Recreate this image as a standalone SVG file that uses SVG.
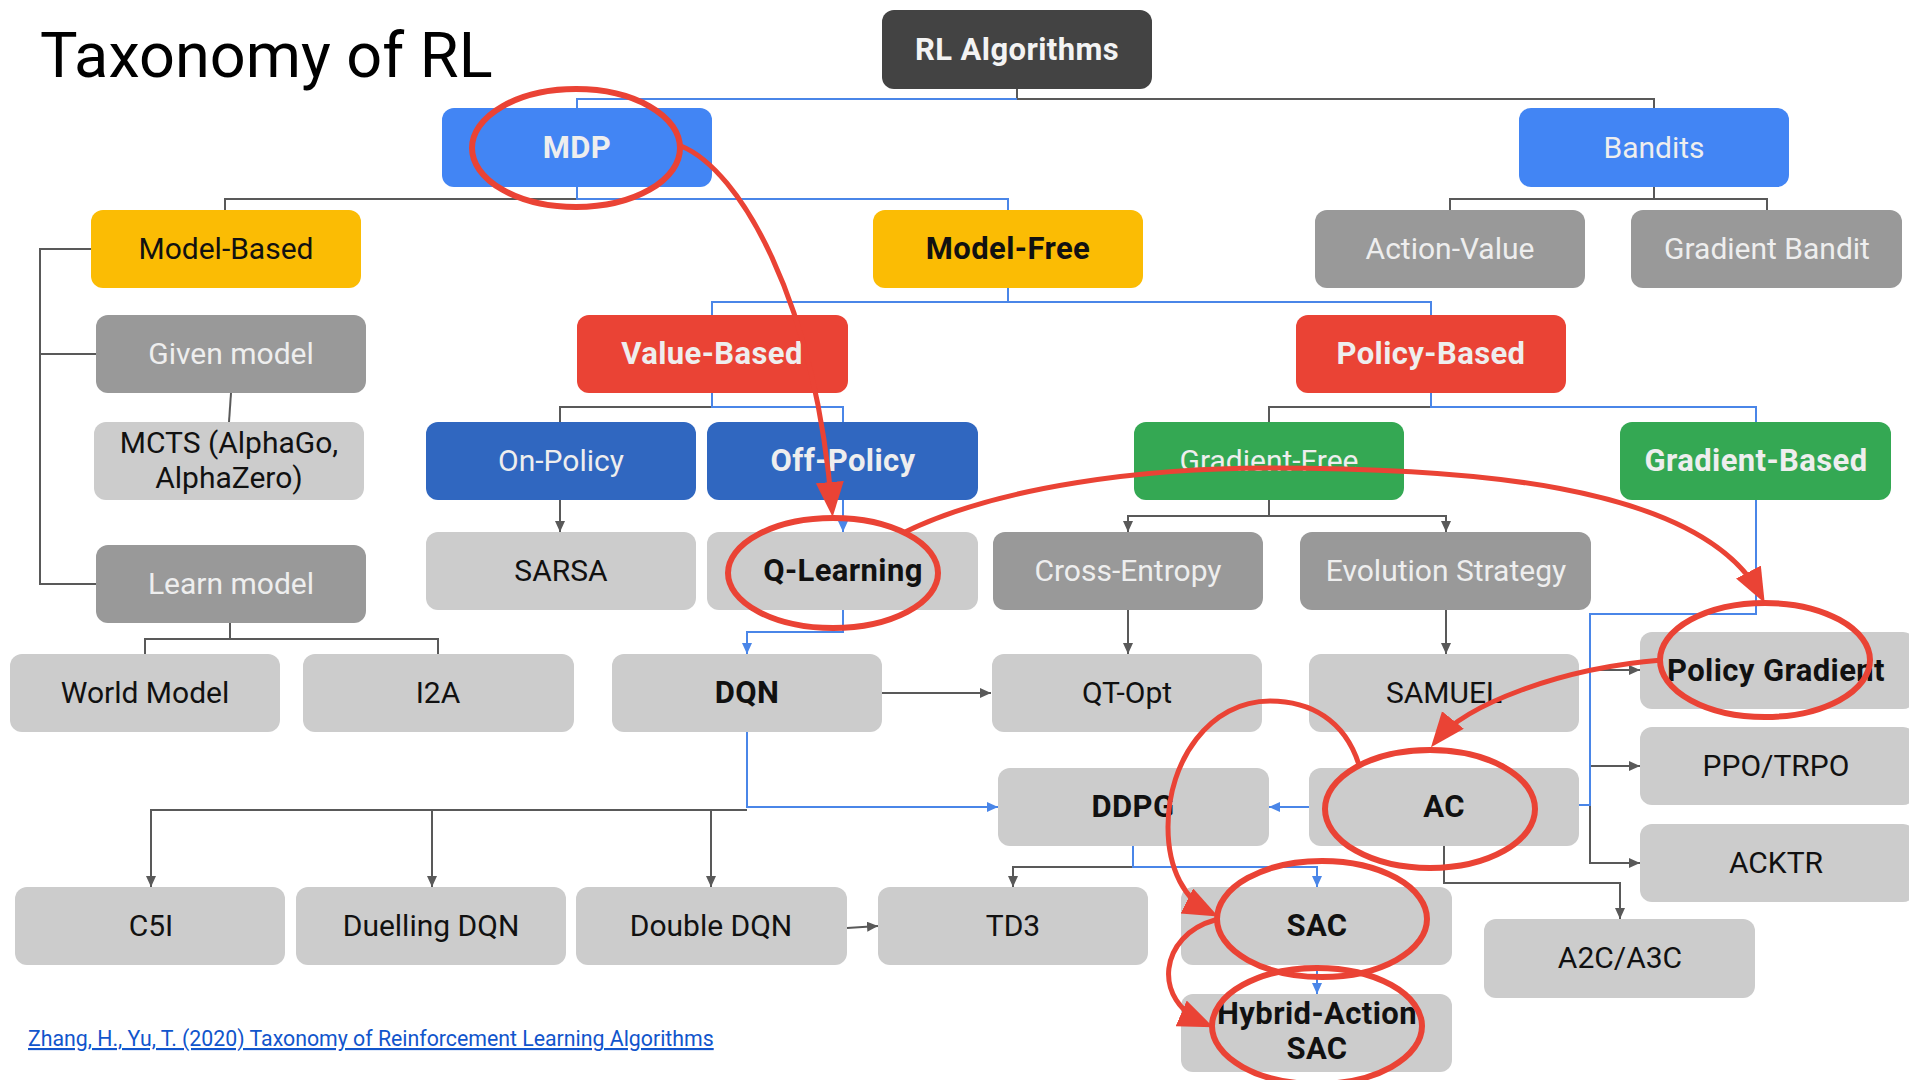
<svg xmlns="http://www.w3.org/2000/svg" width="1909" height="1080" viewBox="0 0 1909 1080">
  <style>
    text { font-family: Roboto, "Liberation Sans", sans-serif; text-anchor: middle; font-size: 30px; }
    .t { fill: #111111; }
    .tl { fill: #eeeeee; }
    .b { font-weight: 700; font-size: 31px; letter-spacing: 0.4px; }
    .box { stroke: none; }
    .dark { fill: #434343; }
    .blue { fill: #4285f4; }
    .navy { fill: #3067c0; }
    .yellow { fill: #fbbc04; }
    .grey { fill: #999999; }
    .light { fill: #cccccc; }
    .red { fill: #ea4335; }
    .green { fill: #34a853; }
    .cg { fill: none; stroke: #595959; stroke-width: 2; }
    .cb { fill: none; stroke: #4a86e8; stroke-width: 2; }
    .ag { marker-end: url(#arrow-grey); }
    .ab { marker-end: url(#arrow-blue); }
    .hl { fill: none; stroke: #ea4335; stroke-width: 6; }
    .hc { fill: none; stroke: #ea4335; stroke-width: 5; marker-end: url(#arrow-red); }
  </style>
  <defs>
    <marker id="arrow-grey" markerUnits="userSpaceOnUse" markerWidth="12" markerHeight="10" refX="11" refY="5" orient="auto">
      <path d="M0,0 L11,5 L0,10 z" fill="#595959"/>
    </marker>
    <marker id="arrow-blue" markerUnits="userSpaceOnUse" markerWidth="12" markerHeight="10" refX="11" refY="5" orient="auto">
      <path d="M0,0 L11,5 L0,10 z" fill="#4a86e8"/>
    </marker>
    <marker id="arrow-red" markerUnits="userSpaceOnUse" markerWidth="36" markerHeight="30" refX="27" refY="14" orient="auto">
      <path d="M0,0 L35,14 L0,28 z" fill="#ea4335"/>
    </marker>
  </defs>

  <rect width="1909" height="1080" fill="#ffffff"/>

  <text x="40" y="77" style="font-size:63px; text-anchor:start;" fill="#000000">Taxonomy of RL</text>

  <!-- tree connectors -->
  <g id="connectors">
    <path class="cg" d="M1017 89 V99 H1654 V108"/>
    <path class="cb" d="M1017 99 H577 V108"/>
    <path class="cg" d="M577 199 H225 V210"/>
    <path class="cb" d="M577 187 V199 H1008 V210"/>
    <path class="cg" d="M1654 187 V199 H1450 V210"/>
    <path class="cg" d="M1654 199 H1767 V210"/>
    <path class="cg" d="M91 249 H40 V584 H96"/>
    <path class="cg" d="M40 354 H96"/>
    <path class="cg" d="M231 393 L229 422"/>
    <path class="cb" d="M1008 288 V302 H712 V315"/>
    <path class="cb" d="M1008 302 H1431 V315"/>
    <path class="cg" d="M712 407 H560 V422"/>
    <path class="cb" d="M712 393 V407 H843 V422"/>
    <path class="cg ag" d="M560 500 V532"/>
    <path class="cb ab" d="M843 500 V532"/>
    <path class="cb ab" d="M843 610 V632 H747 V654"/>
    <path class="cg" d="M230 623 V639 H145 V654"/>
    <path class="cg" d="M230 639 H438 V654"/>
    <path class="cg ag" d="M882 693 H991"/>
    <path class="cg ag" d="M747 810 H151 V887"/>
    <path class="cg ag" d="M432 810 V887"/>
    <path class="cg ag" d="M711 810 V887"/>
    <path class="cb ab" d="M747 732 V807 H998"/>
    <path class="cg ag" d="M847 928 L878 926"/>
    <path class="cg" d="M1431 407 H1269 V422"/>
    <path class="cb" d="M1431 393 V407 H1756 V422"/>
    <path class="cg ag" d="M1269 500 V516 H1128 V532"/>
    <path class="cg ag" d="M1269 516 H1446 V532"/>
    <path class="cg ag" d="M1128 610 V654"/>
    <path class="cg ag" d="M1446 610 V654"/>
    <path class="cg ag" d="M1590 670 H1640"/>
    <path class="cg ag" d="M1590 766 H1640"/>
    <path class="cg ag" d="M1590 805 V863 H1640"/>
    <path class="cb" d="M1756 500 V614 H1590 V805 H1579"/>
    <path class="cb ab" d="M1309 807 H1269"/>
    <path class="cg ag" d="M1444 846 V883 H1620 V919"/>
    <path class="cg ag" d="M1133 867 H1013 V887"/>
    <path class="cb ab" d="M1133 846 V867 H1317 V887"/>
    <path class="cb ab" d="M1317 965 V994"/>
  </g>

  <!-- nodes -->
  <g id="rl-algorithms"><rect class="box dark" x="882" y="10" width="270" height="79" rx="12"/><text class="b" fill="#f3f3f3" x="1017" y="60">RL Algorithms</text></g>
  <g id="mdp"><rect class="box blue" x="442" y="108" width="270" height="79" rx="12"/><text class="tl b" x="577" y="158">MDP</text></g>
  <g id="bandits"><rect class="box blue" x="1519" y="108" width="270" height="79" rx="12"/><text class="tl" x="1654" y="158">Bandits</text></g>

  <g id="model-based"><rect class="box yellow" x="91" y="210" width="270" height="78" rx="12"/><text class="t" x="226" y="259">Model-Based</text></g>
  <g id="model-free"><rect class="box yellow" x="873" y="210" width="270" height="78" rx="12"/><text class="t b" x="1008" y="259">Model-Free</text></g>
  <g id="action-value"><rect class="box grey" x="1315" y="210" width="270" height="78" rx="12"/><text class="tl" x="1450" y="259">Action-Value</text></g>
  <g id="gradient-bandit"><rect class="box grey" x="1631" y="210" width="271" height="78" rx="12"/><text class="tl" x="1767" y="259">Gradient Bandit</text></g>

  <g id="given-model"><rect class="box grey" x="96" y="315" width="270" height="78" rx="12"/><text class="tl" x="231" y="364">Given model</text></g>
  <g id="value-based"><rect class="box red" x="577" y="315" width="271" height="78" rx="12"/><text class="tl b" x="712" y="364">Value-Based</text></g>
  <g id="policy-based"><rect class="box red" x="1296" y="315" width="270" height="78" rx="12"/><text class="tl b" x="1431" y="364">Policy-Based</text></g>

  <g id="mcts"><rect class="box light" x="94" y="422" width="270" height="78" rx="12"/><text class="t" x="229" y="453">MCTS (AlphaGo,</text><text class="t" x="229" y="488">AlphaZero)</text></g>
  <g id="on-policy"><rect class="box navy" x="426" y="422" width="270" height="78" rx="12"/><text class="tl" x="561" y="471">On-Policy</text></g>
  <g id="off-policy"><rect class="box navy" x="707" y="422" width="271" height="78" rx="12"/><text class="tl b" x="843" y="471">Off-Policy</text></g>
  <g id="gradient-free"><rect class="box green" x="1134" y="422" width="270" height="78" rx="12"/><text class="tl" x="1269" y="471">Gradient-Free</text></g>
  <g id="gradient-based"><rect class="box green" x="1620" y="422" width="271" height="78" rx="12"/><text class="tl b" x="1756" y="471">Gradient-Based</text></g>

  <g id="sarsa"><rect class="box light" x="426" y="532" width="270" height="78" rx="12"/><text class="t" x="561" y="581">SARSA</text></g>
  <g id="q-learning"><rect class="box light" x="707" y="532" width="271" height="78" rx="12"/><text class="t b" x="843" y="581">Q-Learning</text></g>
  <g id="cross-entropy"><rect class="box grey" x="993" y="532" width="270" height="78" rx="12"/><text class="tl" x="1128" y="581">Cross-Entropy</text></g>
  <g id="evolution-strategy"><rect class="box grey" x="1300" y="532" width="291" height="78" rx="12"/><text class="tl" x="1446" y="581">Evolution Strategy</text></g>
  <g id="learn-model"><rect class="box grey" x="96" y="545" width="270" height="78" rx="12"/><text class="tl" x="231" y="594">Learn model</text></g>

  <g id="world-model"><rect class="box light" x="10" y="654" width="270" height="78" rx="12"/><text class="t" x="145" y="703">World Model</text></g>
  <g id="i2a"><rect class="box light" x="303" y="654" width="271" height="78" rx="12"/><text class="t" x="438" y="703">I2A</text></g>
  <g id="dqn"><rect class="box light" x="612" y="654" width="270" height="78" rx="12"/><text class="t b" x="747" y="703">DQN</text></g>
  <g id="qt-opt"><rect class="box light" x="992" y="654" width="270" height="78" rx="12"/><text class="t" x="1127" y="703">QT-Opt</text></g>
  <g id="samuel"><rect class="box light" x="1309" y="654" width="270" height="78" rx="12"/><text class="t" x="1444" y="703">SAMUEL</text></g>
  <g id="policy-gradient"><rect class="box light" x="1640" y="632" width="275" height="77" rx="12"/><text class="t b" x="1776" y="681">Policy Gradient</text></g>

  <g id="ppo-trpo"><rect class="box light" x="1640" y="727" width="275" height="78" rx="12"/><text class="t" x="1776" y="776">PPO/TRPO</text></g>
  <g id="ddpg"><rect class="box light" x="998" y="768" width="271" height="78" rx="12"/><text class="t b" x="1133" y="817">DDPG</text></g>
  <g id="ac"><rect class="box light" x="1309" y="768" width="270" height="78" rx="12"/><text class="t b" x="1444" y="817">AC</text></g>
  <g id="acktr"><rect class="box light" x="1640" y="824" width="275" height="78" rx="12"/><text class="t" x="1776" y="873">ACKTR</text></g>

  <g id="c51"><rect class="box light" x="15" y="887" width="270" height="78" rx="12"/><text class="t" x="151" y="936">C5I</text></g>
  <g id="duelling-dqn"><rect class="box light" x="296" y="887" width="270" height="78" rx="12"/><text class="t" x="431" y="936">Duelling DQN</text></g>
  <g id="double-dqn"><rect class="box light" x="576" y="887" width="271" height="78" rx="12"/><text class="t" x="711" y="936">Double DQN</text></g>
  <g id="td3"><rect class="box light" x="878" y="887" width="270" height="78" rx="12"/><text class="t" x="1013" y="936">TD3</text></g>
  <g id="sac"><rect class="box light" x="1181" y="887" width="271" height="78" rx="12"/><text class="t b" x="1317" y="936">SAC</text></g>
  <g id="a2c-a3c"><rect class="box light" x="1484" y="919" width="271" height="79" rx="12"/><text class="t" x="1620" y="968">A2C/A3C</text></g>
  <g id="hybrid-action-sac"><rect class="box light" x="1181" y="994" width="271" height="78" rx="12"/><text class="t b" x="1317" y="1024">Hybrid-Action</text><text class="t b" x="1317" y="1059">SAC</text></g>

  <!-- reference link -->
  <text x="28" y="1046" style="font-size:21.3px; text-anchor:start; text-decoration:underline;" fill="#1155cc">Zhang, H., Yu, T. (2020) Taxonomy of Reinforcement Learning Algorithms</text>

  <!-- red highlight path through the taxonomy -->
  <g id="highlights">
    <ellipse class="hl" cx="576" cy="148" rx="104" ry="59"/>
    <ellipse class="hl" cx="833" cy="573" rx="105" ry="55"/>
    <ellipse class="hl" cx="1765" cy="660" rx="105" ry="57"/>
    <ellipse class="hl" cx="1430" cy="809" rx="105" ry="59"/>
    <ellipse class="hl" cx="1322" cy="919" rx="105" ry="58"/>
    <ellipse class="hl" cx="1317" cy="1026" rx="105" ry="58"/>
    <path class="hc" d="M681 146 C740 170, 815 300, 832 509"/>
    <path class="hc" d="M903 533 C1000 485, 1150 468, 1268 468 C1450 468, 1700 480, 1761 596"/>
    <path class="hc" d="M1662 660 C1560 668, 1465 705, 1436 741"/>
    <path class="hc" d="M1359 765 C1345 720, 1310 701, 1270 701 C1210 701, 1168 760, 1168 827 C1168 870, 1185 900, 1211 913"/>
    <path class="hc" d="M1215 920 C1160 935, 1150 1000, 1206 1024"/>
  </g>
</svg>
